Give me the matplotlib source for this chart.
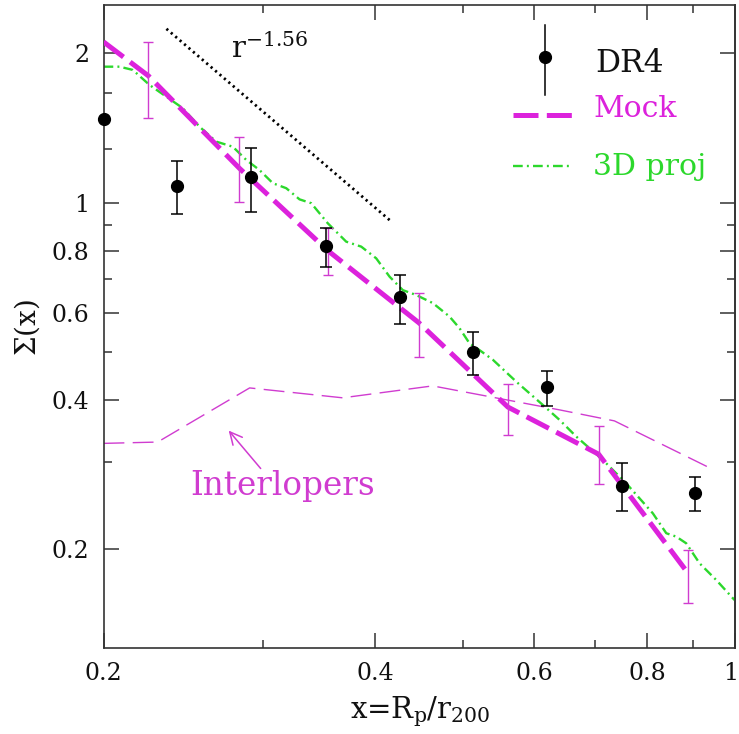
import matplotlib
matplotlib.use("Agg")
import numpy as np
import matplotlib.pyplot as plt
import matplotlib.transforms as mtransforms
from matplotlib.ticker import FixedLocator, FixedFormatter, NullFormatter

plt.rcParams["font.family"] = ["DejaVu Serif"]
plt.rcParams["mathtext.fontset"] = "dejavuserif"
plt.rcParams["lines.scale_dashes"] = False

# ---- DR4 data points ----
dr4_x = [0.200, 0.2413, 0.2915, 0.3524, 0.4256, 0.513, 0.620, 0.750, 0.905]
dr4_y = [1.474, 1.080, 1.128, 0.818, 0.644, 0.499, 0.424, 0.268, 0.260]
dr4_lo = [1.474, 0.948, 0.958, 0.743, 0.569, 0.449, 0.389, 0.239, 0.239]
dr4_hi = [1.474, 1.213, 1.290, 0.890, 0.715, 0.548, 0.458, 0.298, 0.280]

# ---- Mock error bars ----
mock_x = [0.2243, 0.2829, 0.3544, 0.4472, 0.561, 0.707, 0.888]
mock_lo = [1.481, 1.004, 0.715, 0.489, 0.340, 0.271, 0.156]
mock_hi = [2.108, 1.358, 0.890, 0.658, 0.431, 0.354, 0.199]

# ---- Mock curve ----
mock_line_x = [0.2, 0.2243, 0.2829, 0.3544, 0.4472, 0.561, 0.707, 0.881]
mock_line_y = [2.108, 1.80, 1.172, 0.80, 0.572, 0.387, 0.311, 0.1825]

# ---- 3D projection curve ----
proj_x = [0.2, 0.2083, 0.2155, 0.2249, 0.2347, 0.2448, 0.2555, 0.2666, 0.2781,
          0.2878, 0.2977, 0.3080, 0.3187, 0.3297, 0.3397, 0.3544, 0.3714, 0.3859,
          0.4009, 0.4148, 0.4291, 0.4440, 0.4633, 0.4834, 0.4959, 0.5087, 0.5219,
          0.5399, 0.5730, 0.6133, 0.6401, 0.6679, 0.7147, 0.7586, 0.8119, 0.8401,
          0.8618, 0.8841, 0.9146, 0.9544, 1.0]
proj_y = [1.879, 1.879, 1.851, 1.726, 1.635, 1.550, 1.422, 1.327, 1.296,
          1.219, 1.163, 1.094, 1.069, 1.015, 0.997, 0.908, 0.834, 0.815,
          0.772, 0.709, 0.666, 0.651, 0.627, 0.589, 0.558, 0.520, 0.504,
          0.482, 0.4355, 0.3908, 0.3645, 0.3374, 0.3028, 0.2716, 0.2363, 0.2155,
          0.2121, 0.2056, 0.1874, 0.1734, 0.1580]

# ---- Interlopers curve ----
inter_x = [0.2, 0.2296, 0.2903, 0.368, 0.463, 0.640, 0.736, 0.938]
inter_y = [0.327, 0.329, 0.423, 0.404, 0.427, 0.382, 0.363, 0.292]

# ---- power law guide r^-1.56 ----
plaw_x = [0.2348, 0.416]
plaw_y = [2.24, 0.918]

magenta = "#dc22dc"
magenta_thin = "#d03cd0"
green = "#2cd82c"

fig = plt.figure(figsize=(7.39, 7.34), dpi=100)
ax = fig.add_axes([0.1401, 0.1165, 0.8539, 0.8767])
ax.set_xscale("log")
ax.set_yscale("log")

ax.plot(proj_x, proj_y, color=green, lw=1.7, dashes=(7, 3, 1.4, 3), zorder=2)
ax.plot(inter_x, inter_y, color=magenta_thin, lw=1.0, dashes=(15, 6), zorder=2)
ax.plot(mock_line_x, mock_line_y, color=magenta, lw=3.6, dashes=(18, 6), zorder=3)
ax.plot(plaw_x, plaw_y, color="black", lw=2.0, dashes=(1.6, 2.6), zorder=3)

mock_mid = np.sqrt(np.array(mock_lo) * np.array(mock_hi))
ax.errorbar(mock_x, mock_mid,
            yerr=[mock_mid - np.array(mock_lo), np.array(mock_hi) - mock_mid],
            fmt="none", ecolor=magenta_thin, elinewidth=1.0, capsize=3.8,
            capthick=1.0, zorder=4)

dr4_y_arr = np.array(dr4_y)
ax.errorbar(dr4_x, dr4_y,
            yerr=[dr4_y_arr - np.array(dr4_lo), np.array(dr4_hi) - dr4_y_arr],
            fmt="o", color="black", ms=8.5, ecolor="black", elinewidth=1.1,
            capsize=4.2, capthick=1.1, zorder=5, clip_on=False)

ax.set_xlim(0.2, 1.0)
ax.set_ylim(0.1262, 2.502)

# ticks
ax.xaxis.set_major_locator(FixedLocator([0.2, 0.4, 0.6, 0.8, 1.0]))
ax.xaxis.set_major_formatter(FixedFormatter(["0.2", "0.4", "0.6", "0.8", "1"]))
ax.xaxis.set_minor_locator(FixedLocator([0.3, 0.5, 0.7, 0.9]))
ax.xaxis.set_minor_formatter(NullFormatter())
ax.yaxis.set_major_locator(FixedLocator([0.2, 0.4, 0.6, 0.8, 1.0, 2.0]))
ax.yaxis.set_major_formatter(FixedFormatter(["0.2", "0.4", "0.6", "0.8", "1", "2"]))
ax.yaxis.set_minor_locator(FixedLocator([0.3, 0.5, 0.7, 0.9, 1.28, 1.66]))
ax.yaxis.set_minor_formatter(NullFormatter())

edge = "#333333"
ax.tick_params(which="both", direction="in", top=True, right=False,
               color=edge, width=1.1, labelsize=17, labelcolor="#111111")
ax.tick_params(which="major", length=11, pad=10)
ax.tick_params(which="minor", length=6)
for s in ax.spines.values():
    s.set_color(edge)
    s.set_linewidth(1.2)

# keep the "1" label at the right edge inside the picture
shift = mtransforms.ScaledTranslation(-4 / 100, 0, fig.dpi_scale_trans)
last = ax.xaxis.get_major_ticks()[-1]
last.label1.set_transform(last.label1.get_transform() + shift)

sec = ax.secondary_yaxis("right", functions=(lambda v: v, lambda v: v))
sec.set_yticks([0.2, 0.4, 0.6, 0.8, 1.0, 2.0])
sec.set_yticks([0.3, 0.5, 0.7, 0.9], minor=True)
sec.yaxis.set_major_formatter(NullFormatter())
sec.yaxis.set_minor_formatter(NullFormatter())
sec.tick_params(which="both", direction="in", color=edge, width=1.1)
sec.tick_params(which="major", length=11)
sec.tick_params(which="minor", length=6)
sec.spines["right"].set_color(edge)
sec.spines["right"].set_linewidth(1.2)

# annotations
ax.text(0.277, 1.956, r"r$^{-1.56}$", fontsize=21, ha="left", va="baseline",
        color="#111111")
ax.text(0.316, 0.2576, "Interlopers", fontsize=23.5, ha="center", va="baseline",
        color=magenta_thin)
ax.annotate("", xy=(0.2752, 0.347), xytext=(0.2986, 0.291),
            arrowprops=dict(arrowstyle="->", color=magenta_thin, lw=1.1,
                            mutation_scale=22, shrinkA=0, shrinkB=0))

# legend drawn by hand
tr = ax.transAxes
ax.plot([0.6997, 0.6997], [0.860, 0.969], color="black", lw=1.1, transform=tr,
        clip_on=False)
ax.plot([0.6997], [0.9192], "o", color="black", ms=8.5, transform=tr, clip_on=False)
ax.text(0.780, 0.8959, "DR4", fontsize=22.5, transform=tr, ha="left",
        va="baseline", color="#111111")
ax.plot([0.649, 0.7417], [0.829, 0.829], color=magenta, lw=3.6, dashes=(18, 6),
        transform=tr)
ax.text(0.776, 0.826, "Mock", fontsize=21.5, transform=tr, ha="left",
        va="baseline", color=magenta)
ax.plot([0.649, 0.7433], [0.750, 0.750], color=green, lw=1.7,
        dashes=(7, 3, 1.4, 3), transform=tr)
ax.text(0.776, 0.7358, "3D proj", fontsize=21.5, transform=tr, ha="left",
        va="baseline", color=green)

fig.text(420 / 739, 1 - 718 / 734, r"x=R$_{\rm p}$/r$_{200}$", fontsize=21,
         ha="center", va="baseline", color="#111111")
fig.text(27 / 739, 1 - 328 / 734, r"$\Sigma$(x)", fontsize=20, rotation=90,
         ha="center", va="center", color="#111111")

fig.savefig("out.png", dpi=100)
